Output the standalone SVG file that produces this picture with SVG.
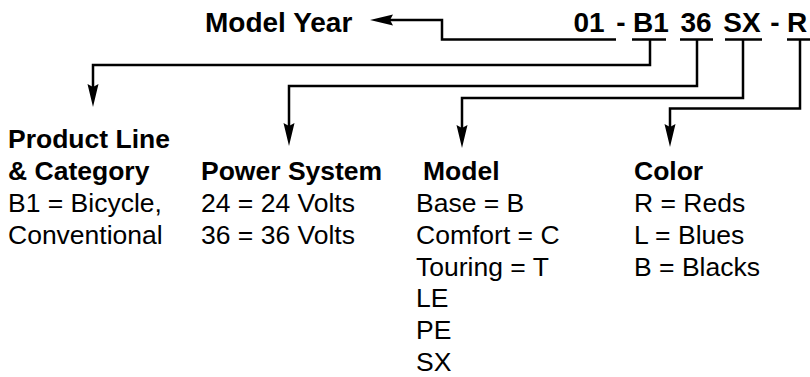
<svg xmlns="http://www.w3.org/2000/svg" width="810" height="377" viewBox="0 0 810 377">
<style>
text { font-family: "Liberation Sans", Arial, Helvetica, sans-serif; fill: #000; font-size: 26.5px; }
.b { font-weight: bold; }
.top { font-weight: bold; font-size: 28px; }
.mid { text-anchor: middle; }
.ln { fill: none; stroke: #000; stroke-width: 2.5; stroke-linejoin: miter; stroke-linecap: butt; }
</style>
<defs>
<marker id="ah" markerUnits="userSpaceOnUse" markerWidth="24" markerHeight="12" viewBox="0 0 24 12" refX="15" refY="6" orient="auto">
<path d="M0,0.5 L23,6 L0,11.5 L3,6 z" fill="#000"/>
</marker>
</defs>
<rect width="810" height="377" fill="#fff"/>
<g id="code">
<text class="top mid" x="589" y="32">01</text>
<text class="top mid" x="621" y="32">-</text>
<text class="top mid" x="651" y="32">B1</text>
<text class="top mid" x="696" y="32">36</text>
<text class="top mid" x="742" y="32">SX</text>
<text class="top mid" x="775" y="32">-</text>
<text class="top mid" x="797" y="32">R</text>
</g>
<g id="model-year">
<text class="top" x="205" y="32">Model Year</text>
</g>
<g id="product-line">
<text class="b" x="8" y="148">Product Line</text>
<text class="b" x="8" y="180">&amp; Category</text>
<text x="8" y="212">B1 = Bicycle,</text>
<text x="8" y="243.5">Conventional</text>
</g>
<g id="power-system">
<text class="b" x="201" y="180">Power System</text>
<text x="201" y="212">24 = 24 Volts</text>
<text x="201" y="243.5">36 = 36 Volts</text>
</g>
<g id="model">
<text class="b" x="423" y="180">Model</text>
<text x="416" y="212">Base = B</text>
<text x="416" y="243.5">Comfort = C</text>
<text x="416" y="275.5">Touring = T</text>
<text x="416" y="307">LE</text>
<text x="416" y="339">PE</text>
<text x="416" y="371">SX</text>
</g>
<g id="color">
<text class="b" x="634" y="180">Color</text>
<text x="634" y="212">R = Reds</text>
<text x="634" y="243.5">L = Blues</text>
<text x="634" y="275.5">B = Blacks</text>
</g>
<g id="connectors">
<path class="ln" d="M616,39.5 H442 V20 H378" marker-end="url(#ah)"/>
<path class="ln" d="M632,39.5 H666"/>
<path class="ln" d="M650,39.5 V65 H93 V99" marker-end="url(#ah)"/>
<path class="ln" d="M680,39.5 H713"/>
<path class="ln" d="M697,39.5 V86 H289 V138" marker-end="url(#ah)"/>
<path class="ln" d="M725,39.5 H762"/>
<path class="ln" d="M743,39.5 V98 H462 V140" marker-end="url(#ah)"/>
<path class="ln" d="M787,39.5 H810"/>
<path class="ln" d="M800,39.5 V108.5 H670 V139" marker-end="url(#ah)"/>
</g>
</svg>
